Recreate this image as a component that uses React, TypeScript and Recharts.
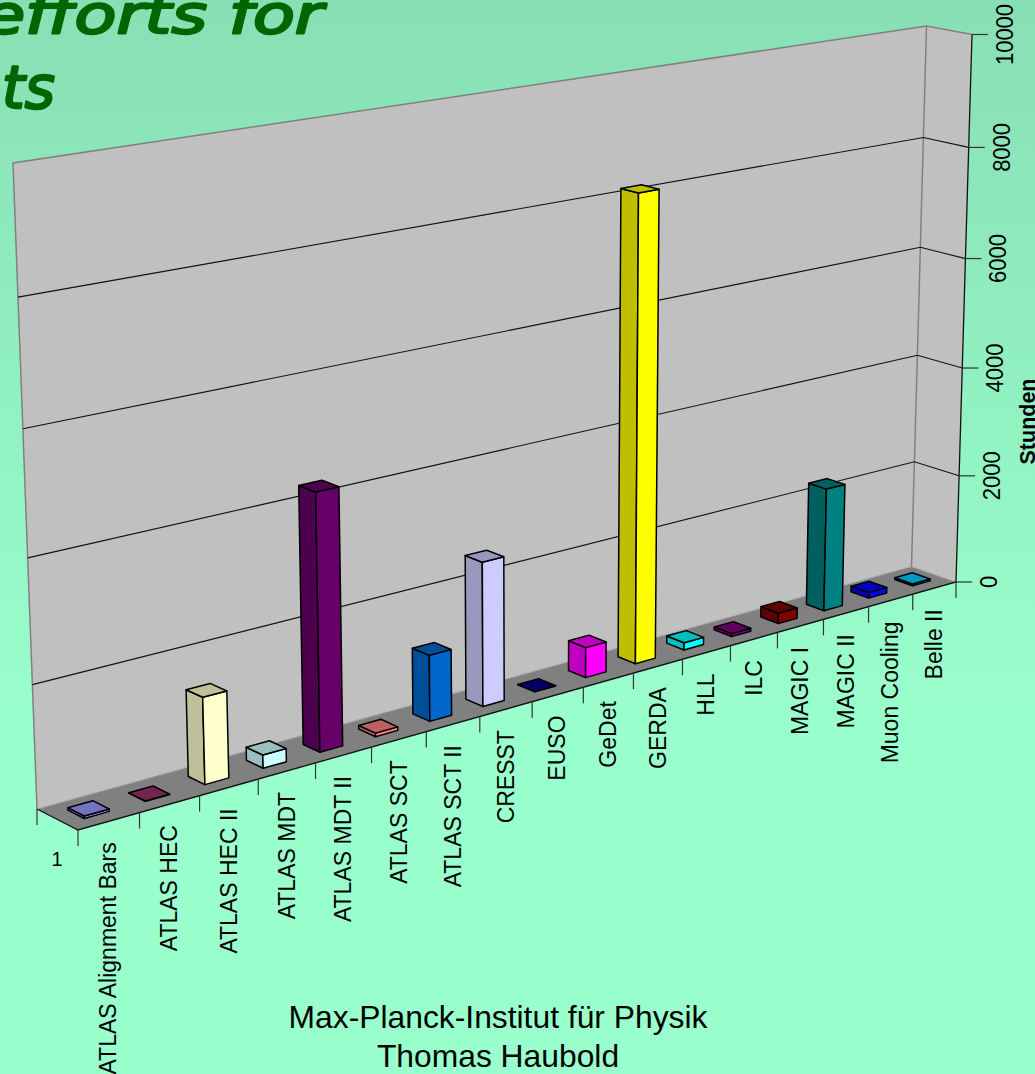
import { BarChart, Bar, XAxis, YAxis, CartesianGrid, Customized } from "recharts";

const categories = [
  "ATLAS Alignment Bars", "ATLAS HEC", "ATLAS HEC II", "ATLAS MDT", "ATLAS MDT II", "ATLAS SCT",
  "ATLAS SCT II", "CRESST", "EUSO", "GeDet", "GERDA", "HLL", "ILC", "MAGIC I", "MAGIC II",
  "Muon Cooling", "Belle II",
];
const hours = [40, 5, 1430, 220, 4300, 60, 1130, 2480, 5, 530, 8140, 130, 55, 190, 2240, 105, 35];
const barColors = [
  "#9999FF", "#993366", "#FFFFCC", "#CCFFFF", "#660066", "#FF8080", "#0066CC", "#CCCCFF", "#000080",
  "#FF00FF", "#FFFF00", "#00FFFF", "#800080", "#800000", "#008080", "#0000FF", "#00CCFF",
];
const valueTicks = [0, 2000, 4000, 6000, 8000, 10000];
const data = categories.map((name, i) => ({ name, hours: hours[i] }));

const W = 1035;
const H = 1074;
const M = 100; // plot rect inside the chart, only used to get back to 0..1
const PW = W - 2 * M;
const PH = H - 2 * M;
const FONT = "'Liberation Sans', Arial, sans-serif";

type Pt = [number, number];

// unit square to quad, corners in order (0,0) (1,0) (1,1) (0,1)
function homography(q: Pt[]) {
  const [[x0, y0], [x1, y1], [x2, y2], [x3, y3]] = q;
  const dx1 = x1 - x2, dx2 = x3 - x2, dx3 = x0 - x1 + x2 - x3;
  const dy1 = y1 - y2, dy2 = y3 - y2, dy3 = y0 - y1 + y2 - y3;
  const den = dx1 * dy2 - dx2 * dy1;
  const g = (dx3 * dy2 - dx2 * dy3) / den;
  const h = (dx1 * dy3 - dx3 * dy1) / den;
  const a = x1 - x0 + g * x1, b = x3 - x0 + h * x3;
  const d = y1 - y0 + g * y1, e = y3 - y0 + h * y3;
  return (u: number, v: number): Pt => {
    const k = g * u + h * v + 1;
    return [(a * u + b * v + x0) / k, (d * u + e * v + y0) / k];
  };
}

const backPlane = homography([[37, 809], [911.5, 566.5], [926.5, 26], [13, 163]]);
const frontPlane = homography([[78, 830], [956, 582], [972, 34.5], [55.7, 176.5]]);

// depth 0 is the back wall, depth 1 the front of the floor
function project(u: number, v: number, depth: number): Pt {
  const b = backPlane(u, v);
  const f = frontPlane(u, v);
  return [b[0] + (f[0] - b[0]) * depth, b[1] + (f[1] - b[1]) * depth];
}
const pts = (list: Pt[]) => list.map((p) => p.map((n) => n.toFixed(1)).join(",")).join(" ");
const toU = (x: number) => (x - M) / PW;
const toV = (y: number) => (H - M - y) / PH;

function shade(hex: string) {
  const n = parseInt(hex.slice(1), 16);
  const c = [(n >> 16) & 255, (n >> 8) & 255, n & 255].map((v) => Math.round(v * 0.75));
  return `rgb(${c.join(",")})`;
}

function Box(props: any) {
  const { x, y, width, index } = props;
  const u0 = toU(x), u1 = toU(x + width), top = toV(y);
  const d0 = 0.3, d1 = 0.7;
  const color = barColors[index];
  const dark = shade(color);
  const side = [project(u0, 0, d0), project(u0, 0, d1), project(u0, top, d1), project(u0, top, d0)];
  const front = [project(u0, 0, d1), project(u1, 0, d1), project(u1, top, d1), project(u0, top, d1)];
  const cap = [project(u0, top, d0), project(u0, top, d1), project(u1, top, d1), project(u1, top, d0)];
  const line = { stroke: "#000", strokeWidth: 1.5, strokeLinejoin: "round" as const };
  return (
    <g>
      <polygon points={pts(side)} fill={dark} {...line} />
      <polygon points={pts(front)} fill={color} {...line} />
      <polygon points={pts(cap)} fill={dark} {...line} />
    </g>
  );
}

function GridLine(props: any) {
  const v = toV(props.y1);
  const a = project(0, v, 0), b = project(1, v, 0), c = project(1, v, 1);
  if (v < 0.001 || v > 0.999) return <g />;
  return <polyline points={pts([a, b, c])} fill="none" stroke="#111" strokeWidth={1.1} />;
}

function ValueTick(props: any) {
  const { y, payload } = props;
  const [px, py] = project(1, toV(y), 1);
  const cx = px + 33;
  return (
    <g>
      <line x1={px} y1={py} x2={px + 16} y2={py} stroke="#333" strokeWidth={1.2} />
      <text
        transform={`translate(${cx + 8},${py}) rotate(-90) scale(1,1.07)`}
        textAnchor="middle"
        fontFamily={FONT}
        fontSize={22}
        fill="#000"
      >
        {payload.value}
      </text>
    </g>
  );
}

function CategoryTick(props: any) {
  const { x, payload, index } = props;
  const n = categories.length;
  const u = toU(x);
  const [lx, ly] = project(u, 0, 1);
  const mark = (uu: number, key: string) => {
    const [mx, my] = project(uu, 0, 1);
    return <line key={key} x1={mx} y1={my} x2={mx} y2={my + 16} stroke="#333" strokeWidth={1.2} />;
  };
  return (
    <g>
      {mark(u - 0.5 / n, "l")}
      {index === n - 1 ? mark(u + 0.5 / n, "r") : null}
      <text
        transform={`translate(${lx + 7.5},${ly + 21}) rotate(-90)`}
        textAnchor="end"
        fontFamily={FONT}
        fontSize={23}
        fill="#000"
      >
        {payload.value}
      </text>
    </g>
  );
}

function Room() {
  const floor = [project(0, 0, 0), project(1, 0, 0), project(1, 0, 1), project(0, 0, 1)];
  const back = [project(0, 0, 0), project(1, 0, 0), project(1, 1, 0), project(0, 1, 0)];
  const side = [project(1, 0, 0), project(1, 0, 1), project(1, 1, 1), project(1, 1, 0)];
  const edge = { stroke: "#808080", strokeWidth: 1.5, fill: "none" };
  return (
    <g>
      <polygon points={pts(back)} fill="#C0C0C0" />
      <polygon points={pts(side)} fill="#C0C0C0" />
      <polygon points={pts(floor)} fill="#808080" />
      <polyline points={pts([project(0, 0, 0), project(0, 1, 0), project(1, 1, 0), project(1, 1, 1)])} {...edge} />
      <polyline points={pts([project(1, 1, 0), project(1, 0, 0)])} {...edge} />
      <polyline
        points={pts([project(0, 0, 0), project(1, 0, 0), project(1, 0, 1)])}
        fill="none"
        stroke="#A8A8A8"
        strokeWidth={1.5}
        strokeDasharray="2 2"
      />
    </g>
  );
}

function Frame() {
  const a = project(0, 0, 0), b = project(0, 0, 1), c = project(1, 0, 1), d = project(1, 1, 1);
  const titleStyle = {
    fontFamily: "'DejaVu Sans', sans-serif",
    fontStyle: "italic",
    fontSize: 54,
    fill: "#006600",
    stroke: "#006600",
    strokeWidth: 2.4,
    strokeLinejoin: "round" as const,
  };
  return (
    <g>
      <polyline points={pts([a, b, c, d])} fill="none" stroke="#111" strokeWidth={1.3} />
      <line x1={a[0]} y1={a[1]} x2={a[0]} y2={a[1] + 16} stroke="#333" strokeWidth={1.2} />
      <text x={57} y={866} textAnchor="middle" fontFamily={FONT} fontSize={20}>1</text>
      <text
        transform="translate(1034.5,421.5) rotate(-90)"
        textAnchor="middle"
        fontFamily={FONT}
        fontWeight="bold"
        fontSize={21.5}
      >
        Stunden
      </text>
      <text x={498} y={1028} textAnchor="middle" fontFamily={FONT} fontSize={31.8}>Max-Planck-Institut für Physik</text>
      <text x={498} y={1067} textAnchor="middle" fontFamily={FONT} fontSize={31.8}>Thomas Haubold</text>
      <text x={-17} y={33} textLength={340} lengthAdjust="spacingAndGlyphs" style={titleStyle}>
        efforts for
      </text>
      <text x={2} y={108} style={{ ...titleStyle, fontSize: 58 }}>
        ts
      </text>
    </g>
  );
}

export default function App() {
  return (
    <div
      style={{
        position: "absolute",
        left: 0,
        top: 0,
        width: W,
        height: H,
        overflow: "hidden",
        background: "linear-gradient(180deg, #88DFB4 0px, #99FFCC 720px)",
      }}
    >
      <svg width={W} height={H} style={{ position: "absolute", left: 0, top: 0 }}>
        <Room />
      </svg>
      <div style={{ position: "absolute", left: 0, top: 0 }}>
        <BarChart
          width={W}
          height={H}
          data={data}
          margin={{ top: M, right: M, bottom: M - 1, left: M - 1 }}
          barCategoryGap="30%"
        >
          <CartesianGrid vertical={false} horizontal={GridLine} stroke="#111" />
          <XAxis dataKey="name" height={1} interval={0} axisLine={false} tickLine={false} tick={CategoryTick} />
          <YAxis
            width={1}
            domain={[0, 10000]}
            ticks={valueTicks}
            axisLine={false}
            tickLine={false}
            tick={ValueTick}
          />
          <Bar dataKey="hours" shape={Box} isAnimationActive={false} />
          <Customized component={Frame} />
        </BarChart>
      </div>
    </div>
  );
}
